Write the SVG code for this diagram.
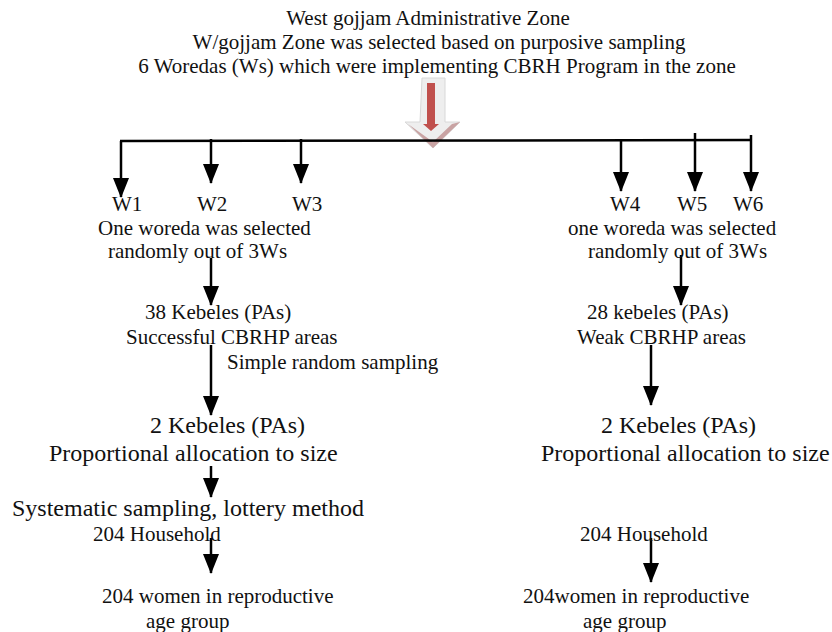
<svg xmlns="http://www.w3.org/2000/svg" width="832" height="632" viewBox="0 0 832 632">
<style>
text{font-family:"Liberation Serif","Times New Roman",serif;fill:#111}
.s{font-size:21px}
.l{font-size:24px}
.m{text-anchor:middle}
.c{stroke:#000;stroke-width:2.5;fill:none;marker-end:url(#ah)}
.h{stroke:#000;stroke-width:2.5;fill:none}
</style>
<defs>
<marker id="ah" markerUnits="userSpaceOnUse" markerWidth="20" markerHeight="16" refX="19" refY="8" orient="auto" viewBox="0 0 20 16">
<path d="M0,0 L20,8 L0,16 Z" fill="#000"/>
</marker>
</defs>
<g id="title">
<text class="s m" x="428" y="25">West gojjam Administrative Zone</text>
<text class="s m" x="439" y="49">W/gojjam Zone was selected based on purposive sampling</text>
<text class="s m" x="437" y="73">6 Woredas (Ws) which were implementing CBRH Program in the zone</text>
</g>
<g id="big-arrow">
<path d="M422,78 L445,78 L445,122 L460,122 L433,148 L405,122 L420,122 Z" fill="#eeeeee" stroke="#d8d8d8" stroke-width="1"/>
<path d="M408,124 L433,148 L460,122 L452,124 L433,142 Z" fill="#c9a3a3"/>
<path d="M427,83 L435,83 L435,124 L439,124 L431,131 L423,124 L427,124 Z" fill="#c0504d"/>
</g>
<g id="connectors">
<line class="h" x1="120" y1="141" x2="752" y2="140"/>
<line class="c" x1="121" y1="141" x2="121" y2="197"/>
<line class="c" x1="211" y1="139" x2="211" y2="183"/>
<line class="c" x1="301" y1="139" x2="301" y2="183"/>
<line class="c" x1="621" y1="140" x2="621" y2="191"/>
<line class="c" x1="695" y1="133" x2="695" y2="191"/>
<line class="c" x1="751" y1="135" x2="751" y2="191"/>
<line class="c" x1="211" y1="258" x2="211" y2="305"/>
<line class="c" x1="681" y1="255" x2="681" y2="305"/>
<line class="c" x1="211" y1="345" x2="211" y2="415"/>
<line class="c" x1="651" y1="345" x2="651" y2="405"/>
<line class="c" x1="211" y1="466" x2="211" y2="497"/>
<line class="c" x1="211" y1="538" x2="211" y2="573"/>
<line class="c" x1="651" y1="538" x2="651" y2="582"/>
</g>
<g id="w1"><text class="s" x="112" y="211">W1</text></g>
<g id="w2"><text class="s" x="197" y="211">W2</text></g>
<g id="w3"><text class="s" x="292" y="211">W3</text></g>
<g id="w4"><text class="s" x="610" y="211">W4</text></g>
<g id="w5"><text class="s" x="677" y="211">W5</text></g>
<g id="w6"><text class="s" x="733" y="211">W6</text></g>
<g id="select-left">
<text class="s" x="98" y="235">One woreda was selected</text>
<text class="s" x="108" y="258">randomly out of 3Ws</text>
</g>
<g id="select-right">
<text class="s" x="568" y="235">one woreda was selected</text>
<text class="s" x="588" y="258">randomly out of 3Ws</text>
</g>
<g id="kebeles-38">
<text class="s" x="145" y="319">38 Kebeles (PAs)</text>
<text class="s" x="126" y="344">Successful CBRHP areas</text>
<text class="s" x="227" y="369">Simple random sampling</text>
</g>
<g id="kebeles-28">
<text class="s" x="587" y="319">28 kebeles (PAs)</text>
<text class="s" x="577" y="344">Weak CBRHP areas</text>
</g>
<g id="kebeles-2-left">
<text class="l" x="150" y="433">2 Kebeles (PAs)</text>
<text class="l" x="49" y="461">Proportional allocation to size</text>
</g>
<g id="kebeles-2-right">
<text class="l" x="601" y="433">2 Kebeles (PAs)</text>
<text class="l" x="541" y="461">Proportional allocation to size</text>
</g>
<g id="systematic">
<text class="l" x="12" y="516">Systematic sampling, lottery method</text>
</g>
<g id="household-left"><text class="s" x="93" y="541">204 Household</text></g>
<g id="household-right"><text class="s" x="580" y="541">204 Household</text></g>
<g id="women-left">
<text class="s" x="102" y="603">204 women in reproductive</text>
<text class="s" x="146" y="628">age group</text>
</g>
<g id="women-right">
<text class="s" x="523" y="603">204women in reproductive</text>
<text class="s" x="583" y="628">age group</text>
</g>
</svg>
